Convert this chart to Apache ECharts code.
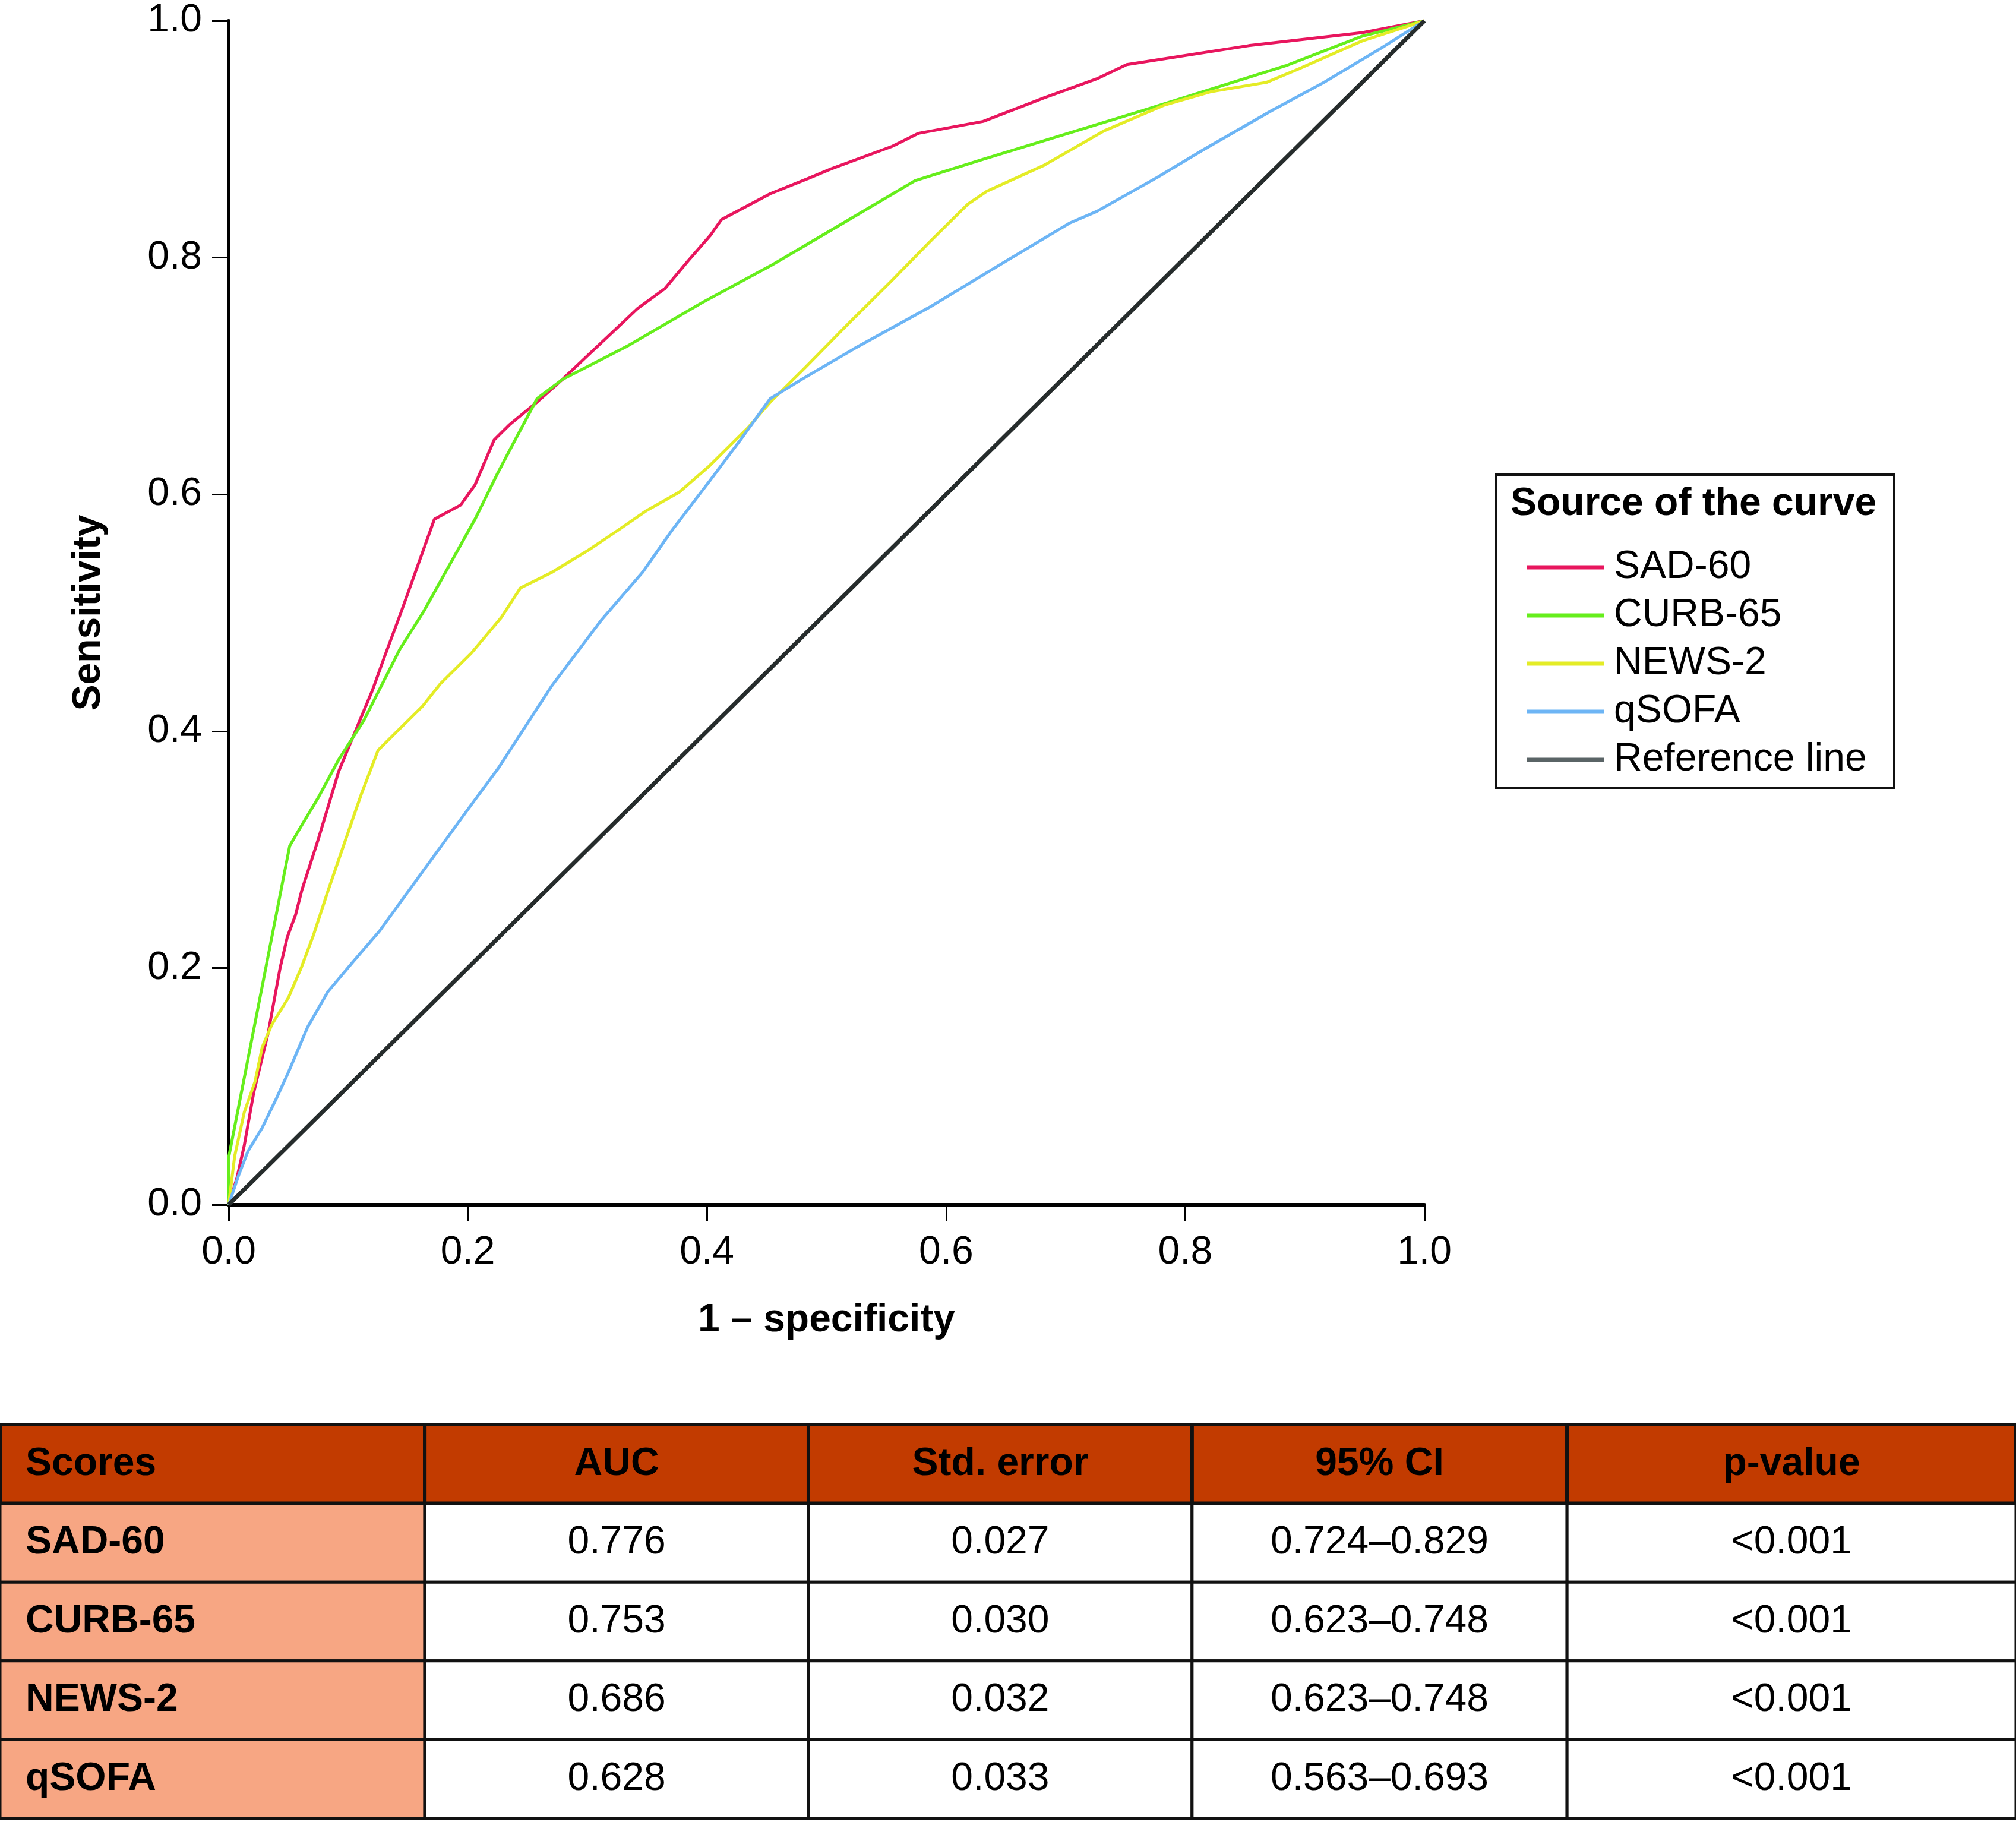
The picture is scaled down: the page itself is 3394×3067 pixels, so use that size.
<!DOCTYPE html>
<html>
<head>
<meta charset="utf-8">
<script src="https://cdn.jsdelivr.net/npm/echarts@6/dist/echarts.min.js"></script>
<style>
html,body{margin:0;padding:0;background:#fff;}
#chart{width:3394px;height:3067px;}
</style>
</head>
<body>
<div id="chart"></div>
<script>
// ---- Data ----
const seriesNames = ['SAD-60', 'CURB-65', 'NEWS-2', 'qSOFA', 'Reference line'];

const sad60 = [[0,0],[0.007,0.023],[0.013,0.05],[0.021,0.095],[0.033,0.145],[0.043,0.2],[0.049,0.226],[0.056,0.245],[0.061,0.265],[0.075,0.309],[0.092,0.366],[0.108,0.405],[0.12,0.434],[0.13,0.462],[0.144,0.5],[0.172,0.579],[0.194,0.591],[0.206,0.608],[0.222,0.646],[0.235,0.659],[0.258,0.678],[0.279,0.697],[0.301,0.718],[0.32,0.736],[0.342,0.757],[0.365,0.774],[0.384,0.797],[0.403,0.819],[0.412,0.832],[0.453,0.854],[0.485,0.867],[0.504,0.875],[0.555,0.894],[0.577,0.905],[0.631,0.915],[0.682,0.935],[0.726,0.951],[0.751,0.963],[0.853,0.979],[0.948,0.99],[1,1]];

const curb65 = [[0,0],[0,0.04],[0.051,0.303],[0.059,0.317],[0.075,0.344],[0.092,0.376],[0.113,0.409],[0.143,0.469],[0.163,0.501],[0.206,0.579],[0.225,0.618],[0.238,0.643],[0.258,0.681],[0.279,0.697],[0.333,0.725],[0.396,0.762],[0.453,0.793],[0.507,0.825],[0.574,0.865],[0.631,0.883],[0.764,0.924],[0.884,0.962],[0.948,0.987],[1,1]];

const news2 = [[0,0],[0.005,0.041],[0.013,0.078],[0.022,0.104],[0.028,0.133],[0.036,0.152],[0.05,0.175],[0.061,0.201],[0.071,0.228],[0.083,0.265],[0.098,0.309],[0.111,0.347],[0.125,0.384],[0.139,0.398],[0.162,0.421],[0.177,0.44],[0.203,0.466],[0.228,0.496],[0.244,0.521],[0.27,0.534],[0.301,0.553],[0.326,0.57],[0.349,0.586],[0.377,0.602],[0.402,0.624],[0.434,0.656],[0.453,0.678],[0.482,0.707],[0.52,0.746],[0.555,0.781],[0.586,0.813],[0.618,0.845],[0.634,0.856],[0.682,0.878],[0.732,0.907],[0.783,0.929],[0.821,0.94],[0.868,0.948],[0.894,0.959],[0.948,0.983],[1,1]];

const qsofa = [[0,0],[0.008,0.024],[0.016,0.045],[0.028,0.065],[0.04,0.09],[0.05,0.112],[0.066,0.15],[0.083,0.18],[0.103,0.204],[0.126,0.231],[0.149,0.263],[0.203,0.338],[0.225,0.368],[0.27,0.438],[0.311,0.493],[0.346,0.534],[0.371,0.57],[0.402,0.611],[0.428,0.646],[0.453,0.681],[0.479,0.697],[0.523,0.723],[0.586,0.758],[0.65,0.797],[0.703,0.829],[0.726,0.839],[0.777,0.868],[0.815,0.891],[0.872,0.924],[0.916,0.948],[0.964,0.977],[1,1]];

const refLine = [[0,0],[1,1]];

const xTicks = [0, 0.2, 0.4, 0.6, 0.8, 1.0];
const yTicks = [0, 0.2, 0.4, 0.6, 0.8, 1.0];

// Table
const tableHeaders = ['Scores', 'AUC', 'Std. error', '95% CI', 'p-value'];
const scores = ['SAD-60', 'CURB-65', 'NEWS-2', 'qSOFA'];
const auc = ['0.776', '0.753', '0.686', '0.628'];
const stdError = ['0.027', '0.030', '0.032', '0.033'];
const ci95 = ['0.724\u20130.829', '0.623\u20130.748', '0.623\u20130.748', '0.563\u20130.693'];
const pValue = ['<0.001', '<0.001', '<0.001', '<0.001'];

// ---- Styling / layout ----
const colors = ['#E8165E', '#66EE1C', '#E4EC26', '#6DB5F5', '#262C2C'];
const legendIconColors = ['#E8165E', '#66EE1C', '#E4EC26', '#6DB5F5', '#5A6466'];
const FONT = '"Liberation Sans", Arial, Helvetica, sans-serif';
const colEdges = [0, 0.2107, 0.401, 0.5913, 0.7773, 1];

const columns = [scores, auc, stdError, ci95, pValue];
const tableRows = ['header'].concat(scores);
const cells = [];
tableHeaders.forEach((h, c) => cells.push([c, 0, h]));
scores.forEach((s, r) => {
  columns.forEach((col, c) => cells.push([c, r + 1, col[r]]));
});

const curveData = [sad60, curb65, news2, qsofa, refLine];

const chart = echarts.init(document.getElementById('chart'), null, {renderer: 'canvas'});

const lineSeries = curveData.map((d, i) => ({
  name: seriesNames[i],
  type: 'line',
  xAxisIndex: 0,
  yAxisIndex: 0,
  data: d,
  showSymbol: false,
  symbol: 'none',
  color: colors[i],
  lineStyle: {color: colors[i], width: i === 4 ? 7 : 5},
  z: 3 + i,
  animation: false
}));

const tableSeries = {
  type: 'custom',
  xAxisIndex: 1,
  yAxisIndex: 1,
  data: cells,
  animation: false,
  renderItem: function (params, api) {
    const c = api.value(0);
    const r = api.value(1);
    const text = cells[params.dataIndex][2];
    const h = api.size([0, 1])[1];
    const cy = api.coord([0, r])[1];
    const x0 = api.coord([colEdges[c], r])[0];
    const x1 = api.coord([colEdges[c + 1], r])[0];
    let fill = '#ffffff';
    if (r === 0) fill = '#C23B00';
    else if (c === 0) fill = '#F7A683';
    const bold = (r === 0 || c === 0);
    return {
      type: 'group',
      children: [
        {
          type: 'rect',
          shape: {x: x0, y: cy - h / 2, width: x1 - x0, height: h},
          style: {fill: fill, stroke: '#111111', lineWidth: r === 0 ? 6 : 5}
        },
        {
          type: 'text',
          style: {
            text: text,
            x: c === 0 ? x0 + 43 : (x0 + x1) / 2,
            y: cy,
            align: c === 0 ? 'left' : 'center',
            verticalAlign: 'middle',
            fontSize: 66,
            fontWeight: bold ? 'bold' : 'normal',
            fontFamily: FONT,
            fill: '#000000'
          }
        }
      ]
    };
  }
};

const option = {
  backgroundColor: '#ffffff',
  animation: false,
  textStyle: {fontFamily: FONT},
  grid: [
    {left: 385, top: 35, width: 2013, height: 1993, containLabel: false},
    {left: 0, top: 2398, width: 3394, height: 663, containLabel: false}
  ],
  xAxis: [
    {
      type: 'value', gridIndex: 0, min: 0, max: 1, interval: 0.2,
      name: '1 \u2013 specificity', nameLocation: 'middle', nameGap: 162,
      nameTextStyle: {fontSize: 66, fontWeight: 'bold', color: '#000', fontFamily: FONT},
      axisLine: {show: true, lineStyle: {color: '#000', width: 6}},
      axisTick: {show: true, inside: false, length: 28, lineStyle: {color: '#000', width: 3}},
      axisLabel: {fontSize: 66, color: '#000', margin: 48, fontFamily: FONT,
        formatter: v => xTicks.some(t => Math.abs(t - v) < 1e-9) ? v.toFixed(1) : ''},
      splitLine: {show: false}
    },
    {type: 'value', gridIndex: 1, min: 0, max: 1, show: false}
  ],
  yAxis: [
    {
      type: 'value', gridIndex: 0, min: 0, max: 1, interval: 0.2,
      name: 'Sensitivity', nameLocation: 'middle', nameGap: 202, nameRotate: 90,
      nameTextStyle: {fontSize: 66, fontWeight: 'bold', color: '#000', fontFamily: FONT},
      axisLine: {show: true, lineStyle: {color: '#000', width: 6}},
      axisTick: {show: true, inside: false, length: 28, lineStyle: {color: '#000', width: 3}},
      axisLabel: {fontSize: 66, color: '#000', margin: 45, fontFamily: FONT,
        formatter: v => yTicks.some(t => Math.abs(t - v) < 1e-9) ? v.toFixed(1) : ''},
      splitLine: {show: false}
    },
    {type: 'category', gridIndex: 1, data: tableRows, inverse: true, show: false}
  ],
  legend: {
    data: seriesNames.map((n, i) => ({name: n, itemStyle: {color: legendIconColors[i]}})),
    orient: 'vertical',
    left: 2565,
    top: 915,
    icon: 'rect',
    itemWidth: 130,
    itemHeight: 7,
    itemGap: 11,
    itemStyle: {borderWidth: 0},
    textStyle: {fontSize: 66, lineHeight: 70, color: '#000', fontFamily: FONT, padding: [0, 0, 0, 12]},
    selectedMode: false
  },
  graphic: [
    {
      type: 'rect', left: 2517, top: 797, z: 10,
      shape: {width: 670, height: 527},
      style: {fill: 'transparent', stroke: '#111', lineWidth: 4}
    },
    {
      type: 'text', left: 2543, top: 816, z: 10,
      style: {text: 'Source of the curve', fontSize: 66, fontWeight: 'bold', fontFamily: FONT, fill: '#000'}
    }
  ],
  series: lineSeries.concat([tableSeries])
};

chart.setOption(option);
</script>
</body>
</html>
